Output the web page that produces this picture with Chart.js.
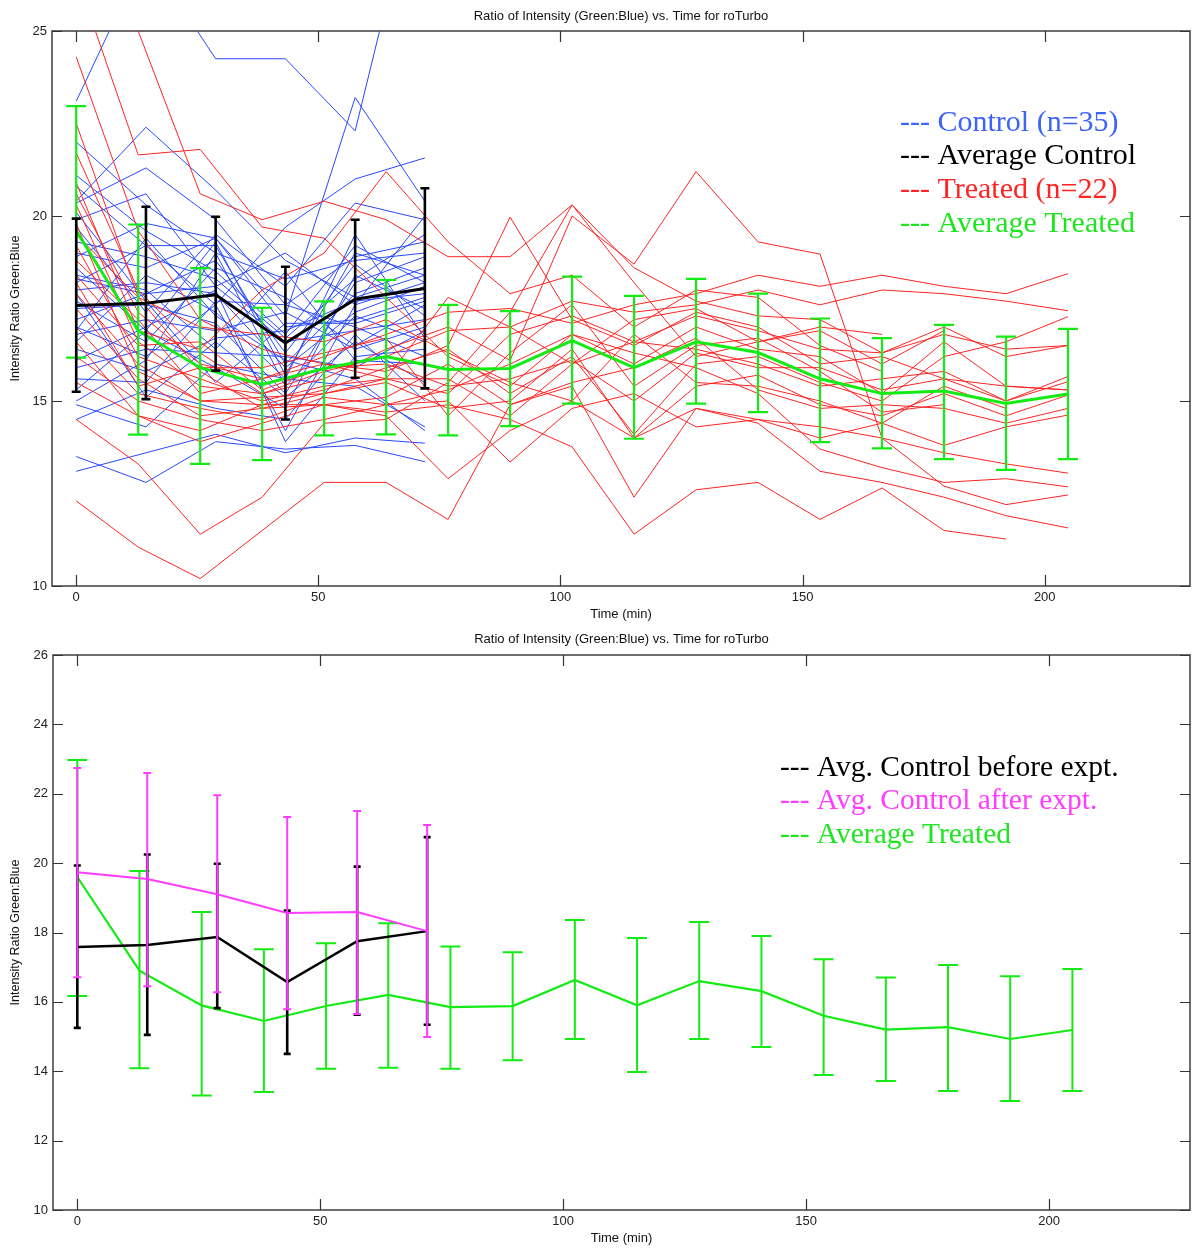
<!DOCTYPE html>
<html><head><meta charset="utf-8">
<script src="https://cdn.jsdelivr.net/npm/chart.js@4.4.1/dist/chart.umd.min.js"></script>
<style>
html,body{margin:0;padding:0;background:#fff;}
canvas{display:block;}
</style></head><body>
<canvas id="c1" width="1192" height="625"></canvas>
<canvas id="c2" width="1192" height="624"></canvas>
<script>
// ---------- DATA ----------
const titleText = 'Ratio of Intensity (Green:Blue) vs. Time for roTurbo';
const xTitle = 'Time (min)';
const yTitle = 'Intensity Ratio Green:Blue';
const xTickValues = [0, 50, 100, 150, 200];
const yTicksTop = [10, 15, 20, 25];
const yTicksBottom = [10, 12, 14, 16, 18, 20, 22, 24, 26];

const controlTimes = [0, 14.4, 28.8, 43.2, 57.6, 72];
const treatedTimes = [0, 12.8, 25.6, 38.4, 51.2, 64, 76.8, 89.6, 102.4, 115.2, 128, 140.8, 153.6, 166.4, 179.2, 192, 204.8];

// individual control cells (n=35)
const ctrl01 = [23.1, 27.1, 24.25, 24.25, 22.3, 30.0];
const ctrl02 = [18.9, 19.8, 19.4, 17.3, 23.2, 20.4];
const ctrl03 = [20.4, 22.4, 20.7, 18.8, 17.8, 18.4];
const ctrl04 = [20.35, 21.3, 19.9, 17.6, 18.9, 19.3];
const ctrl05 = [18.2, 19.2, 17.6, 19.7, 21.0, 21.57];
const ctrl06 = [19.7, 17.4, 19.5, 18.1, 20.35, 19.9];
const ctrl07 = [21.1, 19.6, 18.5, 16.8, 19.2, 18.2];
const ctrl08 = [20.8, 19.2, 19.2, 16.0, 17.9, 18.6];
const ctrl09 = [19.3, 18.9, 18.3, 16.7, 18.3, 19.5];
const ctrl10 = [19.0, 18.6, 19.4, 17.0, 17.2, 17.8];
const ctrl11 = [18.6, 16.9, 19.3, 15.7, 19.0, 18.4];
const ctrl12 = [18.3, 17.9, 18.8, 16.3, 18.7, 17.3];
const ctrl13 = [18.0, 18.2, 17.9, 15.9, 17.4, 18.1];
const ctrl14 = [17.7, 16.6, 18.6, 17.8, 16.5, 17.6];
const ctrl15 = [17.5, 17.6, 17.1, 15.2, 18.2, 18.9];
const ctrl16 = [17.2, 17.9, 18.1, 16.6, 16.9, 17.2];
const ctrl17 = [17.0, 16.2, 17.6, 14.2, 17.6, 18.2];
const ctrl18 = [16.8, 17.2, 16.9, 17.4, 16.4, 17.0];
const ctrl19 = [16.6, 18.4, 17.4, 15.6, 19.5, 16.7];
const ctrl20 = [16.4, 15.8, 16.7, 16.9, 17.7, 17.9];
const ctrl21 = [16.1, 17.0, 18.0, 13.9, 16.2, 16.4];
const ctrl22 = [15.9, 16.4, 16.3, 16.2, 15.9, 16.9];
const ctrl23 = [15.6, 15.5, 17.7, 17.6, 17.0, 16.2];
const ctrl24 = [15.3, 16.9, 15.9, 14.8, 18.4, 17.5];
const ctrl25 = [14.9, 14.3, 16.0, 15.6, 15.4, 14.3];
const ctrl26 = [13.5, 12.8, 13.9, 13.7, 13.8, 13.36];
const ctrl27 = [13.1, 13.6, 14.1, 13.6, 14.0, 13.86];
const ctrl28 = [22.0, 20.3, 19.0, 18.3, 18.8, 19.0];
const ctrl29 = [19.9, 20.6, 18.1, 19.0, 17.6, 20.0];
const ctrl30 = [18.4, 18.0, 16.4, 18.5, 16.1, 16.0];
const ctrl31 = [17.9, 15.1, 16.6, 15.1, 16.6, 15.5];
const ctrl32 = [16.9, 19.4, 17.3, 16.1, 15.6, 14.2];
const ctrl33 = [15.0, 16.1, 19.0, 15.4, 17.3, 16.6];
const ctrl34 = [20.1, 17.7, 15.5, 17.1, 17.1, 17.7];
const ctrl35 = [14.5, 15.3, 14.8, 14.5, 16.8, 15.0];

// individual treated cells (n=22)
const trt01 = [12.3, 11.05, 10.2, 11.5, 12.8, 12.8, 11.8, 14.9, 15.4, 12.4, 14.8, 14.5, 14.0, 14.4, 13.8, 14.3, 14.62];
const trt02 = [26.5, 21.65, 21.8, 19.7, 19.4, 17.8, 16.2, 15.4, 16.8, 16.0, 17.0, 16.4, 16.2, 15.2, 16.6, 15.4, 15.3];
const trt03 = [29.5, 25.0, 20.6, 19.9, 20.4, 19.9, 18.9, 18.9, 20.3, 18.6, 17.7, 17.3, 17.2, 16.3, 17.0, 16.2, 16.5];
const trt04 = [24.3, 19.6, 17.2, 16.4, 16.0, 15.8, 16.5, 19.97, 17.2, 16.5, 17.4, 17.0, 16.0, 16.2, 15.6, 15.0, 15.52];
const trt05 = [21.7, 18.0, 16.3, 15.2, 15.6, 16.4, 17.0, 16.1, 20.0, 18.7, 21.2, 19.3, 18.97, 14.0, 12.7, 12.2, 12.46];
const trt06 = [20.6, 17.4, 16.0, 15.6, 16.2, 16.8, 17.4, 17.5, 17.1, 17.6, 17.9, 18.4, 18.1, 18.4, 18.1, 17.9, 18.44];
const trt07 = [20.3, 16.6, 15.4, 15.2, 15.8, 16.2, 16.9, 17.0, 17.7, 17.4, 17.6, 18.0, 17.6, 18.0, 17.9, 17.7, 17.44];
const trt08 = [19.8, 15.8, 15.0, 14.9, 15.3, 15.9, 16.4, 15.2, 16.2, 14.1, 16.0, 16.2, 15.5, 15.0, 16.2, 16.6, 17.28];
const trt09 = [19.2, 16.2, 15.6, 15.0, 15.4, 15.6, 15.2, 16.8, 17.3, 16.6, 17.3, 16.9, 16.4, 16.3, 16.8, 16.4, 16.5];
const trt10 = [18.8, 17.2, 15.2, 15.6, 16.0, 15.6, 15.6, 14.6, 16.0, 16.6, 16.4, 16.0, 15.4, 15.6, 15.8, 15.0, 15.66];
const trt11 = [18.4, 16.5, 16.6, 15.3, 15.9, 16.0, 15.4, 15.6, 16.1, 15.0, 16.3, 15.9, 15.9, 15.3, 15.6, 15.4, 15.3];
const trt12 = [17.9, 16.0, 15.0, 15.1, 15.2, 15.5, 14.8, 15.0, 16.4, 14.0, 15.4, 15.7, 14.9, 14.6, 15.2, 14.6, 15.16];
const trt13 = [17.5, 15.6, 14.6, 14.8, 14.9, 15.1, 16.0, 14.9, 15.5, 15.9, 16.7, 15.3, 14.8, 14.9, 14.8, 14.4, 14.8];
const trt14 = [17.0, 15.2, 14.8, 14.5, 15.1, 14.9, 15.3, 16.0, 16.8, 16.3, 15.9, 15.2, 13.7, 13.2, 12.8, 12.9, 12.68];
const trt15 = [16.6, 14.6, 14.2, 14.9, 14.9, 14.6, 12.9, 14.2, 15.0, 14.0, 14.8, 14.4, 13.1, 12.8, 12.4, 11.9, 11.57];
const trt16 = [16.2, 15.0, 14.5, 14.2, 14.5, 14.9, 15.0, 13.35, 14.8, 15.2, 14.3, 14.5, 14.3, 14.0, 13.6, 13.3, 13.05];
const trt17 = [15.5, 14.6, 13.9, 14.4, 14.9, 14.7, 14.9, 14.5, 13.76, 11.4, 12.6, 12.8, 11.8, 12.65, 11.5, 11.27, null];
const trt18 = [14.5, 13.3, 11.4, 12.4, 14.4, 14.5, 15.5, 17.4, 20.3, 18.2, 16.2, 16.6, 17.0, 16.8, null, null, null];
const trt19 = [22.5, 17.8, 15.8, 14.8, 15.2, 15.6, 17.8, 17.0, 16.0, 17.2, 17.5, 16.6, 16.9, 16.0, 16.9, null, null];
const trt20 = [20.9, 16.9, 16.4, 18.0, 19.0, 21.2, 19.3, 17.9, 18.4, 17.0, 18.0, 17.8, 16.5, 15.8, null, null, null];
const trt21 = [19.5, 17.8, 17.0, 16.8, 16.6, 17.2, 16.3, 15.5, 15.0, 16.8, 15.5, 15.4, 15.0, 14.4, 15.4, 14.8, null];
const trt22 = [18.2, 15.4, 15.9, 15.9, 16.3, 16.7, 14.6, 16.3, 17.6, 15.4, 16.5, 16.7, 15.8, 14.7, 14.9, null, null];

// averages with error bars
const avgControlBefore = [17.58, 17.64, 17.87, 16.57, 17.75, 18.04];
const avgControlBeforeUpper = [19.93, 20.25, 19.98, 18.63, 19.9, 20.75];
const avgControlBeforeLower = [15.25, 15.05, 15.82, 14.5, 15.63, 15.34];

const avgControlAfter = [19.74, 19.54, 19.1, 18.56, 18.59, 18.04];
const avgControlAfterUpper = [22.74, 22.6, 21.96, 21.33, 21.5, 21.1];
const avgControlAfterLower = [16.71, 16.45, 16.28, 15.79, 15.65, 14.99];

const avgTreated = [19.6, 16.9, 15.9, 15.45, 15.88, 16.2, 15.85, 15.88, 16.63, 15.9, 16.6, 16.31, 15.6, 15.2, 15.27, 14.93, 15.19];
const avgTreatedUpper = [22.97, 19.77, 18.59, 17.52, 17.69, 18.27, 17.6, 17.43, 18.36, 17.84, 18.3, 17.9, 17.23, 16.7, 17.06, 16.74, 16.95];
const avgTreatedLower = [16.17, 14.09, 13.3, 13.4, 14.07, 14.1, 14.07, 14.32, 14.93, 13.98, 14.93, 14.7, 13.89, 13.72, 13.43, 13.14, 13.43];

const legendTopLabels = ['--- Control (n=35)', '--- Average Control', '--- Treated (n=22)', '--- Average Treated'];
const legendBottomLabels = ['--- Avg. Control before expt.', '--- Avg. Control after expt.', '--- Average Treated'];

// ---------- STYLE ----------
const BLUE = 'rgb(40,72,255)';
const RED = 'rgb(255,35,35)';
const GREEN = 'rgb(20,235,20)';
const BLACK = '#000000';
const MAGENTA = 'rgb(255,60,255)';
const SANS = "'Liberation Sans', Arial, sans-serif";
const SERIF = "'Liberation Serif', 'Times New Roman', serif";

const controlLines = [ctrl01, ctrl02, ctrl03, ctrl04, ctrl05, ctrl06, ctrl07, ctrl08, ctrl09, ctrl10, ctrl11, ctrl12, ctrl13, ctrl14, ctrl15, ctrl16, ctrl17, ctrl18, ctrl19, ctrl20, ctrl21, ctrl22, ctrl23, ctrl24, ctrl25, ctrl26, ctrl27, ctrl28, ctrl29, ctrl30, ctrl31, ctrl32, ctrl33, ctrl34, ctrl35];
const treatedLines = [trt01, trt02, trt03, trt04, trt05, trt06, trt07, trt08, trt09, trt10, trt11, trt12, trt13, trt14, trt15, trt16, trt17, trt18, trt19, trt20, trt21, trt22];

function pts(times, vals) {
  return times.map((t, i) => ({x: t, y: vals[i]})).filter(p => p.y !== null && p.y !== undefined);
}
function thin(times, vals, color, order) {
  return {data: pts(times, vals), borderColor: color, borderWidth: 1, pointRadius: 0, tension: 0, fill: false, order};
}
function avg(times, vals, up, lo, color, width, errWidth, cap, order) {
  return {data: pts(times, vals), borderColor: color, borderWidth: width, pointRadius: 0, tension: 0, fill: false, order,
          errUpper: up, errLower: lo, errWidth, errCap: cap};
}

const errorBarPlugin = {
  id: 'errbars',
  afterDatasetDraw(chart, args) {
    const ds = chart.data.datasets[args.index];
    if (!ds.errUpper) return;
    const xs = chart.scales.x, ys = chart.scales.y, ctx = chart.ctx;
    ctx.save();
    ctx.strokeStyle = ds.borderColor;
    ctx.lineWidth = ds.errWidth;
    ctx.lineCap = 'butt';
    ds.data.forEach((p, i) => {
      const x = xs.getPixelForValue(p.x);
      const yu = ys.getPixelForValue(ds.errUpper[i]);
      const yl = ys.getPixelForValue(ds.errLower[i]);
      const c = ds.errCap;
      ctx.beginPath();
      ctx.moveTo(x, yu); ctx.lineTo(x, yl);
      ctx.moveTo(x - c, yu); ctx.lineTo(x + c, yu);
      ctx.moveTo(x - c, yl); ctx.lineTo(x + c, yl);
      ctx.stroke();
    });
    ctx.restore();
  }
};

const framePlugin = {
  id: 'frame',
  beforeDatasetsDraw(chart) {
    const {ctx, chartArea: a, scales: {x, y}} = chart;
    ctx.save();
    ctx.strokeStyle = '#4a4a4a';
    ctx.lineWidth = 1.6;
    ctx.strokeRect(a.left, a.top, a.right - a.left, a.bottom - a.top);
    ctx.lineWidth = 1.2;
    ctx.strokeStyle = '#333';
    ctx.beginPath();
    x.ticks.forEach(t => {
      const px = Math.round(x.getPixelForValue(t.value)) + 0.5;
      ctx.moveTo(px, a.bottom); ctx.lineTo(px, a.bottom - 11);
      ctx.moveTo(px, a.top); ctx.lineTo(px, a.top + 11);
    });
    y.ticks.forEach(t => {
      const py = Math.round(y.getPixelForValue(t.value)) + 0.5;
      ctx.moveTo(a.left, py); ctx.lineTo(a.left + 10, py);
      ctx.moveTo(a.right, py); ctx.lineTo(a.right - 10, py);
    });
    ctx.stroke();
    ctx.restore();
  }
};

const legendPlugin = {
  id: 'textLegend',
  afterDraw(chart, args, opts) {
    const ctx = chart.ctx;
    ctx.save();
    ctx.font = opts.font;
    ctx.textAlign = 'left';
    ctx.textBaseline = 'alphabetic';
    opts.labels.forEach((lab, i) => {
      ctx.fillStyle = opts.colors[i];
      ctx.fillText(lab, opts.x, opts.baselines[i]);
    });
    ctx.restore();
  }
};

function options(yMin, yMax, yTicks, xMax, yWidth, titlePad, legend) {
  return {
    responsive: false, maintainAspectRatio: false, animation: false, devicePixelRatio: 1,
    layout: {padding: {top: 0, right: 2, left: 0, bottom: 0}},
    plugins: {
      legend: {display: false}, tooltip: {enabled: false},
      title: {display: true, text: titleText, fullSize: false, color: '#111',
              font: {family: SANS, size: 13, weight: 'normal', lineHeight: 1.0}, padding: titlePad},
      textLegend: legend
    },
    scales: {
      x: {type: 'linear', min: -5, max: xMax,
          afterBuildTicks: s => { s.ticks = xTickValues.map(v => ({value: v})); },
          afterFit: s => { s.height = 39; },
          grid: {display: false, drawTicks: false}, border: {display: false},
          ticks: {color: '#222', font: {family: SANS, size: 13, lineHeight: 1.0}, padding: 5, maxRotation: 0},
          title: {display: true, text: xTitle, color: '#111', font: {family: SANS, size: 13, lineHeight: 1.0}, padding: {top: 0, bottom: 4}}},
      y: {type: 'linear', min: yMin, max: yMax,
          afterBuildTicks: s => { s.ticks = yTicks.map(v => ({value: v})); },
          afterFit: s => { s.width = yWidth; },
          grid: {display: false, drawTicks: false}, border: {display: false},
          ticks: {color: '#222', font: {family: SANS, size: 13}, padding: 5},
          title: {display: true, text: yTitle, color: '#111', font: {family: SANS, size: 12.5, lineHeight: 1.0}, padding: {top: 9, bottom: 0}}}
    }
  };
}

// ---------- TOP CHART ----------
const topDatasets = [];
controlLines.forEach(v => topDatasets.push(thin(controlTimes, v, BLUE, 4)));
treatedLines.forEach(v => topDatasets.push(thin(treatedTimes, v, RED, 3)));
topDatasets.push(avg(treatedTimes, avgTreated, avgTreatedUpper, avgTreatedLower, GREEN, 3, 2.2, 10, 2));
topDatasets.push(avg(controlTimes, avgControlBefore, avgControlBeforeUpper, avgControlBeforeLower, BLACK, 3, 2.6, 4.5, 1));

new Chart(document.getElementById('c1'), {
  type: 'line',
  data: {datasets: topDatasets},
  options: options(10, 25, yTicksTop, 230, 52, {top: 10, bottom: 8},
    {labels: legendTopLabels, colors: ['rgb(60,100,245)', BLACK, RED, 'rgb(30,230,30)'],
     x: 900, baselines: [131, 164, 198, 232], font: "30px " + SERIF}),
  plugins: [framePlugin, errorBarPlugin, legendPlugin]
});

// ---------- BOTTOM CHART ----------
const bottomDatasets = [
  avg(treatedTimes, avgTreated, avgTreatedUpper, avgTreatedLower, GREEN, 2.2, 2, 10, 3),
  avg(controlTimes, avgControlBefore, avgControlBeforeUpper, avgControlBeforeLower, BLACK, 2.5, 2.6, 3.5, 2),
  avg(controlTimes, avgControlAfter, avgControlAfterUpper, avgControlAfterLower, MAGENTA, 2, 2, 4, 1)
];

new Chart(document.getElementById('c2'), {
  type: 'line',
  data: {datasets: bottomDatasets},
  options: options(10, 26, yTicksBottom, 229, 53, {top: 8, bottom: 9},
    {labels: legendBottomLabels, colors: [BLACK, MAGENTA, 'rgb(30,230,30)'],
     x: 780, baselines: [151, 184, 218], font: "29.5px " + SERIF}),
  plugins: [framePlugin, errorBarPlugin, legendPlugin]
});
</script>
</body></html>
